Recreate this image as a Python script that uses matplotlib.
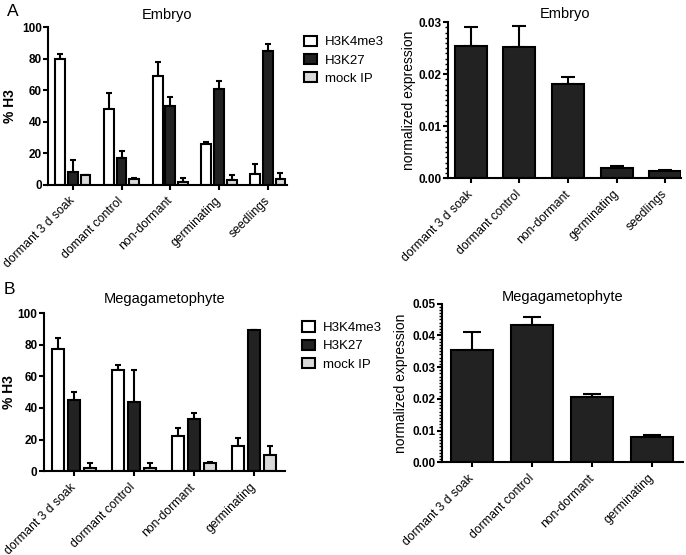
import matplotlib
matplotlib.use("Agg")
import matplotlib.pyplot as plt
import matplotlib.transforms as mtransforms
import numpy as np
from matplotlib.ticker import MultipleLocator, FormatStrFormatter
from matplotlib.patches import Patch

plt.rcParams['font.family'] = ['Liberation Sans', 'DejaVu Sans']

# ---- data ----
series = ["H3K4me3", "H3K27", "mock IP"]
emb_cats = ["dormant 3 d soak", "domant control", "non-dormant", "germinating", "seedlings"]
emb_k4 = [80, 48, 69, 26, 7]
emb_k4_err = [3, 10, 9, 1, 6]
emb_k27 = [8, 17, 50, 61, 85]
emb_k27_err = [8, 4.5, 6, 5, 4.5]
emb_mock = [6, 3.5, 2, 3, 4]
emb_mock_err = [0.5, 1, 2.5, 3, 3.5]
emb_expr_cats = ["dormant 3 d soak", "dormant control", "non-dormant", "germinating", "seedlings"]
emb_expr = [0.0255, 0.0252, 0.0181, 0.0020, 0.0014]
emb_expr_err = [0.0035, 0.0040, 0.0013, 0.0003, 0.0002]

meg_cats = ["dormant 3 d soak", "dormant control", "non-dormant", "germinating"]
meg_k4 = [77, 64, 22, 16]
meg_k4_err = [7, 3, 5, 5]
meg_k27 = [45, 44, 33, 89]
meg_k27_err = [5, 20, 3.5, 0.5]
meg_mock = [2, 2, 5, 10]
meg_mock_err = [3, 3, 1, 6]
meg_expr = [0.0355, 0.0432, 0.0205, 0.0081]
meg_expr_err = [0.0055, 0.0027, 0.0009, 0.0006]

colors = ["white", "#222222", "#d9d9d9"]
TICKFS = 8.5
CATFS = 8.8

fig = plt.figure(figsize=(6.86, 5.55), dpi=100)
shift = mtransforms.ScaledTranslation(-3 / 72, 0, fig.dpi_scale_trans)

def style(ax):
    for s in ["top", "right"]:
        ax.spines[s].set_visible(False)
    for s in ["left", "bottom"]:
        ax.spines[s].set_linewidth(1.5)
    ax.tick_params(axis='both', width=1.5, length=3.6, direction='out')
    ax.tick_params(axis='y', pad=1)
    ax.tick_params(axis='y', which='minor', width=1.0, length=2)
    for t in ax.get_yticklabels():
        t.set_fontweight('bold')
        t.set_fontsize(TICKFS)
    for t in ax.get_xticklabels():
        t.set_transform(t.get_transform() + shift)

def grouped(ax, cats, vals, errs, xlim, width, step, cap):
    x = np.arange(len(cats))
    for i, (v, e) in enumerate(zip(vals, errs)):
        xs = x + (i - 1) * step
        ax.bar(xs, v, width, color=colors[i], edgecolor='black', linewidth=1.5, zorder=2)
        ax.errorbar(xs, v, yerr=[np.zeros(len(e)), e], fmt='none', ecolor='black',
                    elinewidth=1.5, capsize=cap, capthick=1.5, zorder=1)
    ax.set_xlim(*xlim)
    ax.set_ylim(0, 100)
    ax.set_yticks([0, 20, 40, 60, 80, 100])
    ax.set_xticks(x)
    ax.set_xticklabels(cats, rotation=45, ha='right', rotation_mode='anchor', fontsize=CATFS)
    ax.set_ylabel("% H3", fontsize=10, fontweight='bold')
    style(ax)

def single(ax, cats, vals, errs, xlim, width, cap, ymax, step):
    x = np.arange(len(cats))
    ax.bar(x, vals, width, color="#222222", edgecolor='black', linewidth=1.5, zorder=2)
    ax.errorbar(x, vals, yerr=[np.zeros(len(errs)), errs], fmt='none', ecolor='black',
                elinewidth=1.5, capsize=cap, capthick=1.5, zorder=1)
    ax.set_xlim(*xlim)
    ax.set_ylim(0, ymax)
    ax.set_yticks(np.round(np.arange(0, ymax + step / 2, step), 3))
    ax.yaxis.set_major_formatter(FormatStrFormatter('%.2f'))
    ax.yaxis.set_minor_locator(MultipleLocator(0.001))
    ax.set_xticks(x)
    ax.set_xticklabels(cats, rotation=45, ha='right', rotation_mode='anchor', fontsize=CATFS)
    ax.set_ylabel("normalized expression", fontsize=10)
    style(ax)

# Panel A left
axA = fig.add_axes([0.070, 0.667, 0.348, 0.284])
grouped(axA, emb_cats, [emb_k4, emb_k27, emb_mock], [emb_k4_err, emb_k27_err, emb_mock_err],
        (-0.51, 4.39), 0.2, 0.26, 2.5)
axA.set_title("Embryo", fontsize=10.5, pad=6)
axA.yaxis.set_label_coords(-0.13, 0.5)

# Panel A right
axA2 = fig.add_axes([0.653, 0.679, 0.340, 0.281])
single(axA2, emb_expr_cats, emb_expr, emb_expr_err, (-0.47, 4.33), 0.66, 5, 0.03, 0.01)
axA2.set_title("Embryo", fontsize=10.5, pad=3)
axA2.yaxis.set_label_coords(-0.137, 0.5)

# Panel B left
axB = fig.add_axes([0.064, 0.151, 0.351, 0.285])
grouped(axB, meg_cats, [meg_k4, meg_k27, meg_mock], [meg_k4_err, meg_k27_err, meg_mock_err],
        (-0.5, 3.52), 0.2, 0.267, 2.5)
axB.set_title("Megagametophyte", fontsize=10.5, pad=7)
axB.yaxis.set_label_coords(-0.115, 0.5)

# Panel B right
axB2 = fig.add_axes([0.644, 0.167, 0.352, 0.286])
single(axB2, meg_cats, meg_expr, meg_expr_err, (-0.5, 3.52), 0.7, 6.5, 0.05, 0.01)
axB2.set_title("Megagametophyte", fontsize=10.5, pad=0.5)
axB2.yaxis.set_label_coords(-0.14, 0.5)

# Legends
for ax, bx in ((axA, 1.05), (axB, 1.05)):
    handles = [Patch(facecolor=c, edgecolor='black', linewidth=1.5) for c in colors]
    ax.legend(handles, series, loc='upper left', bbox_to_anchor=(bx, 0.98), frameon=False,
              fontsize=9.5, handlelength=1.0, handleheight=0.85, handletextpad=0.6,
              labelspacing=0.4, borderaxespad=0)

fig.text(0.010, 0.993, "A", fontsize=12.5, va='top', ha='left')
fig.text(0.006, 0.492, "B", fontsize=12.5, va='top', ha='left')

fig.savefig("out.png", dpi=100)
